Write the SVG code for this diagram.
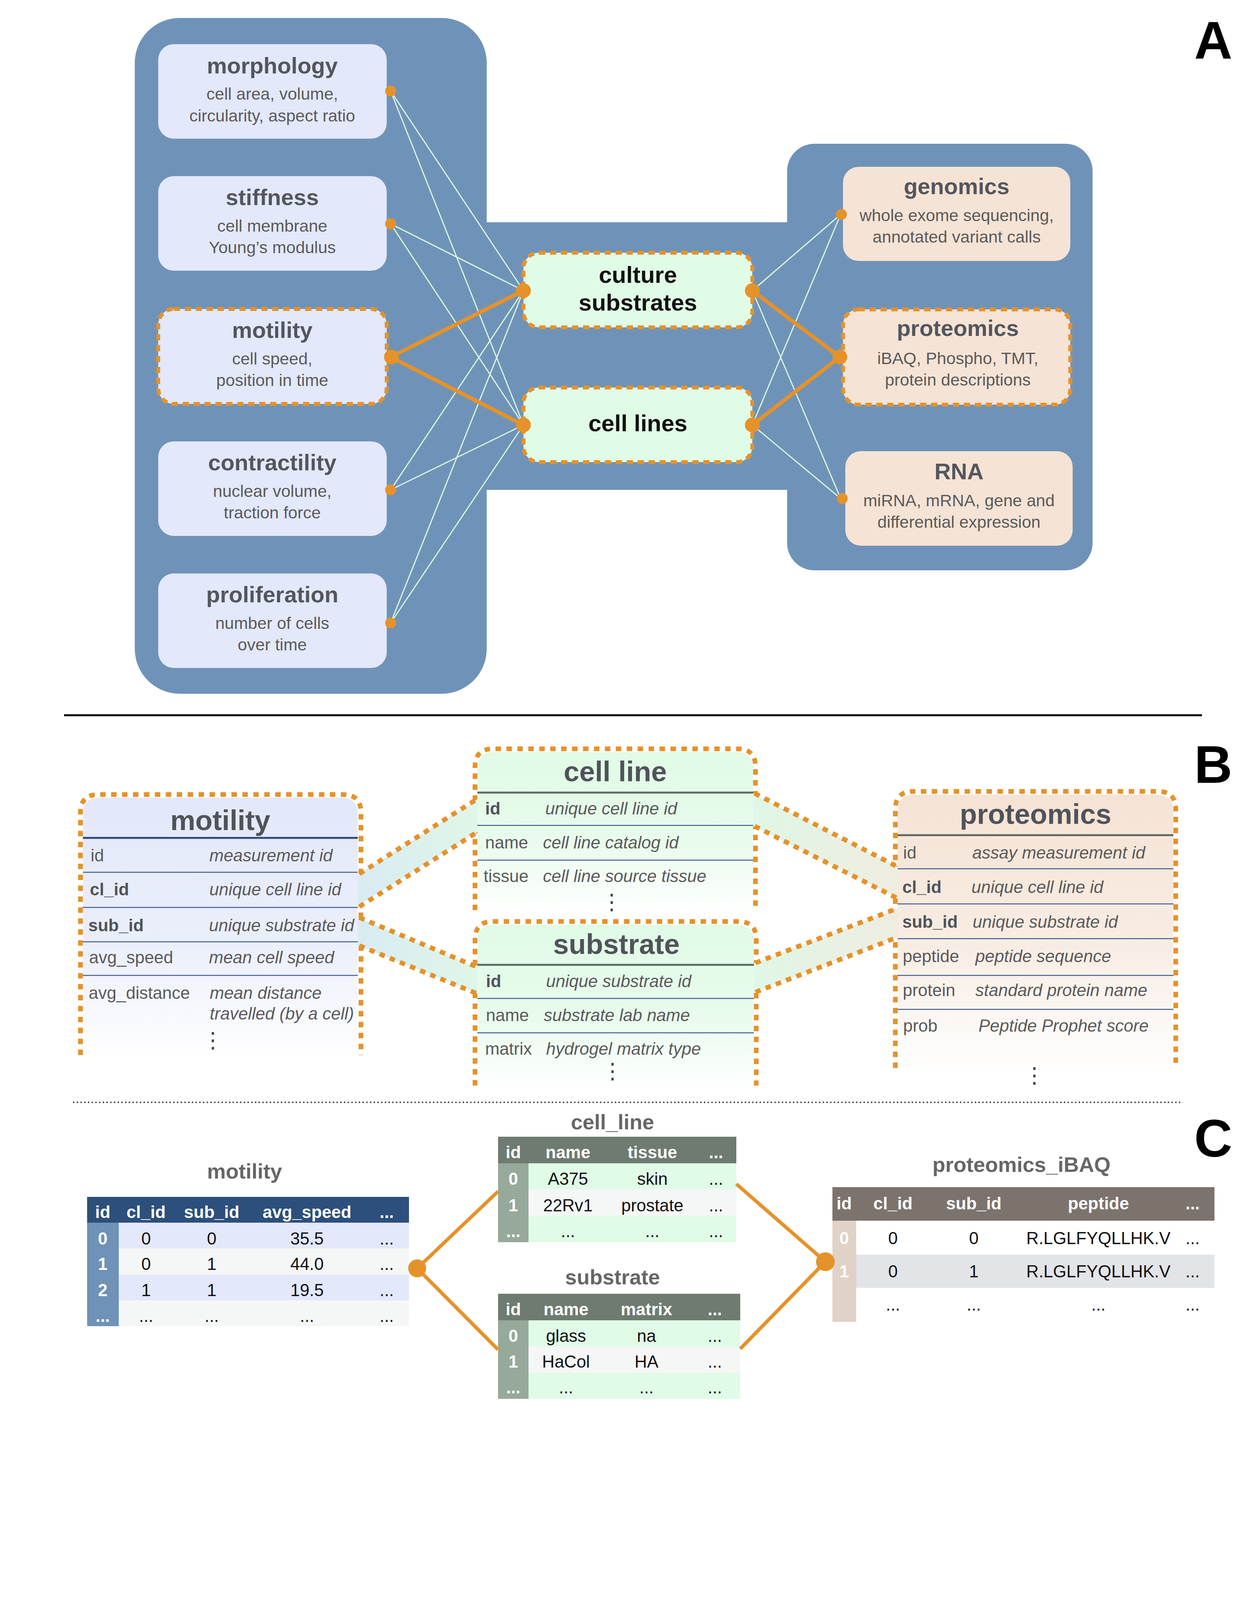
<svg xmlns="http://www.w3.org/2000/svg" width="3200" height="4266" viewBox="0 0 3200 4266">
<defs>
<style>
text{font-family:'Liberation Sans',Arial,Helvetica,sans-serif}
.ttl{font-size:58px;font-weight:bold;fill:#53565D;text-anchor:middle}
.sub{font-size:43px;fill:#5A5A5A;text-anchor:middle}
.mid{font-size:60px;font-weight:bold;fill:#111;text-anchor:middle}
.lbl{font-size:135px;font-weight:bold;fill:#000;text-anchor:middle}
.thin{stroke:#DCF6E0;stroke-width:3;fill:none}
.thick{stroke:#E5922A;stroke-width:10;fill:none}
.dot{fill:#E5922A}
.dash{fill:none;stroke:#E5922A;stroke-width:10;stroke-dasharray:16 12}
.bdr{fill:none;stroke:#E5922A;stroke-width:12;stroke-dasharray:14 14}
.btt{font-size:72px;font-weight:bold;fill:#505359;text-anchor:middle}
.fld{font-size:44px;fill:#5A5A5A}
.fldb{font-size:44px;fill:#505359;font-weight:bold}
.dsc{font-size:44px;fill:#5A5A5A;font-style:italic}
.vd{font-family:'DejaVu Sans',sans-serif;font-size:56px;fill:#444;text-anchor:middle}
.hl{stroke-width:5}
.rl{stroke:#3D5E8E;stroke-width:2.5}
.ctt{font-size:54px;font-weight:bold;fill:#666;text-anchor:middle}
.th{font-size:44px;font-weight:bold;fill:#fff;text-anchor:middle}
.td{font-size:44px;fill:#111;text-anchor:middle}
.cl{stroke:#E5922A;stroke-width:9;fill:none}
</style>
<linearGradient id="gBlue" x1="0" y1="0" x2="0" y2="1"><stop offset="0" stop-color="#E3E8FA"/><stop offset="0.55" stop-color="#EBEFFB"/><stop offset="1" stop-color="#FFFFFF"/></linearGradient>
<linearGradient id="gGreen" x1="0" y1="0" x2="0" y2="1"><stop offset="0" stop-color="#E0FBE6"/><stop offset="0.55" stop-color="#E8FBEC"/><stop offset="1" stop-color="#FFFFFF"/></linearGradient>
<linearGradient id="gPeach" x1="0" y1="0" x2="0" y2="1"><stop offset="0" stop-color="#F5E3D5"/><stop offset="0.55" stop-color="#F8EDE4"/><stop offset="1" stop-color="#FFFFFF"/></linearGradient>
<linearGradient id="gBandL" x1="0" y1="0" x2="1" y2="0"><stop offset="0" stop-color="#D9EBF3"/><stop offset="1" stop-color="#DFF6E7"/></linearGradient>
<linearGradient id="gBandR" x1="0" y1="0" x2="1" y2="0"><stop offset="0" stop-color="#DFF7E6"/><stop offset="1" stop-color="#EFEDE0"/></linearGradient>
</defs>
<rect width="3200" height="4266" fill="#fff"/>

<!-- Panel A backgrounds -->
<g id="panelA-bg" fill="#6F93B8">
<rect x="345" y="46" width="901" height="1730" rx="115"/>
<rect x="1200" y="569" width="870" height="685"/>
<rect x="2015" y="368" width="782" height="1092" rx="70"/>
</g>

<g id="morphology">
<rect x="405" y="113" width="585" height="242" rx="40" fill="#E3E8FA"/>
<text class="ttl" x="697" y="188">morphology</text>
<text class="sub" x="697" y="255">cell area, volume,</text>
<text class="sub" x="697" y="311">circularity, aspect ratio</text>
</g>
<g id="stiffness">
<rect x="405" y="451" width="585" height="242" rx="40" fill="#E3E8FA"/>
<text class="ttl" x="697" y="525">stiffness</text>
<text class="sub" x="697" y="593">cell membrane</text>
<text class="sub" x="697" y="648">Young’s modulus</text>
</g>
<g id="motility">
<rect x="405" y="791" width="585" height="243" rx="40" fill="#E3E8FA" class="dash"/>
<rect x="405" y="791" width="585" height="243" rx="40" fill="#E3E8FA"/>
<rect x="405" y="791" width="585" height="243" rx="40" class="dash"/>
<text class="ttl" x="697" y="865">motility</text>
<text class="sub" x="697" y="933">cell speed,</text>
<text class="sub" x="697" y="988">position in time</text>
</g>
<g id="contractility">
<rect x="405" y="1130" width="585" height="242" rx="40" fill="#E3E8FA"/>
<text class="ttl" x="697" y="1204">contractility</text>
<text class="sub" x="697" y="1272">nuclear volume,</text>
<text class="sub" x="697" y="1327">traction force</text>
</g>
<g id="proliferation">
<rect x="405" y="1468" width="585" height="242" rx="40" fill="#E3E8FA"/>
<text class="ttl" x="697" y="1542">proliferation</text>
<text class="sub" x="697" y="1610">number of cells</text>
<text class="sub" x="697" y="1665">over time</text>
</g>
<g id="culture-substrates">
<rect x="1340" y="647" width="586" height="191" rx="40" fill="#E0FBE6"/>
<rect x="1340" y="647" width="586" height="191" rx="40" class="dash"/>
<text class="mid" x="1633" y="724">culture</text>
<text class="mid" x="1633" y="795">substrates</text>
</g>
<g id="cell-lines">
<rect x="1340" y="992" width="586" height="191" rx="40" fill="#E0FBE6"/>
<rect x="1340" y="992" width="586" height="191" rx="40" class="dash"/>
<text class="mid" x="1633" y="1104">cell lines</text>
</g>
<g id="genomics">
<rect x="2158" y="427" width="582" height="241" rx="40" fill="#F5E3D5"/>
<text class="ttl" x="2449" y="497">genomics</text>
<text class="sub" x="2449" y="566">whole exome sequencing,</text>
<text class="sub" x="2449" y="621">annotated variant calls</text>
</g>
<g id="proteomics">
<rect x="2158" y="792" width="582" height="244" rx="40" fill="#F5E3D5"/>
<rect x="2158" y="792" width="582" height="244" rx="40" class="dash"/>
<text class="ttl" x="2452" y="860">proteomics</text>
<text class="sub" x="2452" y="932">iBAQ, Phospho, TMT,</text>
<text class="sub" x="2452" y="987">protein descriptions</text>
</g>
<g id="rna">
<rect x="2164" y="1155" width="582" height="242" rx="40" fill="#F5E3D5"/>
<text class="ttl" x="2455" y="1227">RNA</text>
<text class="sub" x="2455" y="1296">miRNA, mRNA, gene and</text>
<text class="sub" x="2455" y="1351">differential expression</text>
</g>

<g id="connectors-A">
<line class="thin" x1="1000" y1="233" x2="1340" y2="744"/>
<line class="thin" x1="1000" y1="233" x2="1340" y2="1088"/>
<line class="thin" x1="1000" y1="573" x2="1340" y2="744"/>
<line class="thin" x1="1000" y1="573" x2="1340" y2="1088"/>
<line class="thin" x1="1000" y1="1254" x2="1340" y2="744"/>
<line class="thin" x1="1000" y1="1254" x2="1340" y2="1088"/>
<line class="thin" x1="1000" y1="1595" x2="1340" y2="744"/>
<line class="thin" x1="1000" y1="1595" x2="1340" y2="1088"/>
<line class="thick" x1="1000" y1="914" x2="1340" y2="744"/>
<line class="thick" x1="1000" y1="914" x2="1340" y2="1088"/>
<line class="thin" x1="1926" y1="744" x2="2152" y2="549"/>
<line class="thin" x1="1926" y1="744" x2="2152" y2="1276"/>
<line class="thin" x1="1926" y1="1088" x2="2152" y2="549"/>
<line class="thin" x1="1926" y1="1088" x2="2152" y2="1276"/>
<line class="thick" x1="1926" y1="744" x2="2150" y2="914"/>
<line class="thick" x1="1926" y1="1088" x2="2150" y2="914"/>
<circle class="dot" cx="1000" cy="233" r="14"/>
<circle class="dot" cx="1000" cy="573" r="14"/>
<circle class="dot" cx="1002" cy="914" r="19"/>
<circle class="dot" cx="1000" cy="1254" r="14"/>
<circle class="dot" cx="1000" cy="1595" r="14"/>
<circle class="dot" cx="1340" cy="744" r="19"/>
<circle class="dot" cx="1340" cy="1088" r="19"/>
<circle class="dot" cx="1926" cy="744" r="19"/>
<circle class="dot" cx="1926" cy="1088" r="19"/>
<circle class="dot" cx="2154" cy="549" r="14"/>
<circle class="dot" cx="2150" cy="914" r="19"/>
<circle class="dot" cx="2156" cy="1276" r="14"/>
</g>

<text class="lbl" x="3106" y="150">A</text>
<line x1="164" y1="1831" x2="3077" y2="1831" stroke="#000" stroke-width="5"/>
<text class="lbl" x="3106" y="2004">B</text>
<line x1="187" y1="2822" x2="3028" y2="2822" stroke="#333" stroke-width="3.5" stroke-dasharray="3.5 6"/>
<text class="lbl" x="3106" y="2961">C</text>

<!-- Panel B -->
<g id="b-motility">
<path class="bdr" d="M206,2701 V2080 Q206,2034 252,2034 H878 Q924,2034 924,2080 V2701"/>
<path d="M212,2712 V2086 Q212,2042 256,2042 H872 Q916,2042 916,2086 V2712 Z" fill="url(#gBlue)"/>
<text class="btt" x="564" y="2125">motility</text>
<line x1="212" y1="2145" x2="916" y2="2145" stroke="#2E4A75" class="hl"/>
<line class="rl" x1="212" y1="2233" x2="916" y2="2233"/>
<line class="rl" x1="212" y1="2323" x2="916" y2="2323"/>
<line class="rl" x1="212" y1="2411" x2="916" y2="2411"/>
<line class="rl" x1="212" y1="2497" x2="916" y2="2497"/>
<text class="fld" x="232" y="2205">id</text><text class="dsc" x="536" y="2205">measurement id</text>
<text class="fldb" x="230" y="2292">cl_id</text><text class="dsc" x="536" y="2292">unique cell line id</text>
<text class="fldb" x="226" y="2384">sub_id</text><text class="dsc" x="535" y="2384">unique substrate id</text>
<text class="fld" x="228" y="2466">avg_speed</text><text class="dsc" x="535" y="2466">mean cell speed</text>
<text class="fld" x="227" y="2557">avg_distance</text><text class="dsc" x="537" y="2557">mean distance</text>
<text class="dsc" x="537" y="2610">travelled (by a cell)</text>
<text class="vd" x="545" y="2682">⋮</text>
</g>
<g id="b-cell-line">
<path class="bdr" d="M1216,2330 V1963 Q1216,1917 1262,1917 H1888 Q1934,1917 1934,1963 V2330"/>
<path d="M1222,2336 V1969 Q1222,1925 1266,1925 H1884 Q1928,1925 1928,1969 V2336 Z" fill="url(#gGreen)"/>
<text class="btt" x="1575" y="2000">cell line</text>
<line x1="1222" y1="2029" x2="1928" y2="2029" stroke="#5E6B62" class="hl"/>
<line class="rl" x1="1222" y1="2113" x2="1928" y2="2113"/>
<line class="rl" x1="1222" y1="2202" x2="1928" y2="2202"/>
<text class="fldb" x="1242" y="2085">id</text><text class="dsc" x="1396" y="2085">unique cell line id</text>
<text class="fld" x="1242" y="2172">name</text><text class="dsc" x="1390" y="2172">cell line catalog id</text>
<text class="fld" x="1238" y="2258">tissue</text><text class="dsc" x="1390" y="2258">cell line source tissue</text>
<text class="vd" x="1566" y="2328">⋮</text>
</g>
<g id="b-substrate">
<path class="bdr" d="M1216,2779 V2405 Q1216,2359 1262,2359 H1890 Q1936,2359 1936,2405 V2779"/>
<path d="M1222,2785 V2411 Q1222,2367 1266,2367 H1886 Q1930,2367 1930,2411 V2785 Z" fill="url(#gGreen)"/>
<text class="btt" x="1578" y="2442">substrate</text>
<line x1="1222" y1="2470" x2="1930" y2="2470" stroke="#5E6B62" class="hl"/>
<line class="rl" x1="1222" y1="2556" x2="1930" y2="2556"/>
<line class="rl" x1="1222" y1="2644" x2="1930" y2="2644"/>
<text class="fldb" x="1244" y="2527">id</text><text class="dsc" x="1398" y="2527">unique substrate id</text>
<text class="fld" x="1244" y="2614">name</text><text class="dsc" x="1392" y="2614">substrate lab name</text>
<text class="fld" x="1242" y="2700">matrix</text><text class="dsc" x="1398" y="2700">hydrogel matrix type</text>
<text class="vd" x="1568" y="2761">⋮</text>
</g>
<g id="b-proteomics">
<path class="bdr" d="M2292,2734 V2072 Q2292,2026 2338,2026 H2964 Q3010,2026 3010,2072 V2734"/>
<path d="M2298,2745 V2078 Q2298,2034 2342,2034 H2960 Q3004,2034 3004,2078 V2745 Z" fill="url(#gPeach)"/>
<text class="btt" x="2651" y="2109">proteomics</text>
<line x1="2298" y1="2138" x2="3004" y2="2138" stroke="#5E6B62" class="hl"/>
<line class="rl" x1="2298" y1="2224" x2="3004" y2="2224"/>
<line class="rl" x1="2298" y1="2314" x2="3004" y2="2314"/>
<line class="rl" x1="2298" y1="2403" x2="3004" y2="2403"/>
<line class="rl" x1="2298" y1="2497" x2="3004" y2="2497"/>
<line class="rl" x1="2298" y1="2584" x2="3004" y2="2584"/>
<text class="fld" x="2312" y="2198">id</text><text class="dsc" x="2489" y="2198">assay measurement id</text>
<text class="fldb" x="2310" y="2286">cl_id</text><text class="dsc" x="2487" y="2286">unique cell line id</text>
<text class="fldb" x="2310" y="2375">sub_id</text><text class="dsc" x="2490" y="2375">unique substrate id</text>
<text class="fld" x="2311" y="2463">peptide</text><text class="dsc" x="2497" y="2463">peptide sequence</text>
<text class="fld" x="2311" y="2550">protein</text><text class="dsc" x="2497" y="2550">standard protein name</text>
<text class="fld" x="2312" y="2641">prob</text><text class="dsc" x="2505" y="2641">Peptide Prophet score</text>
<text class="vd" x="2648" y="2772">⋮</text>
</g>

<g id="connectors-B">
<polygon points="916,2239 1222,2046 1222,2130 916,2319" fill="url(#gBandL)"/>
<line class="bdr" x1="920" y1="2237" x2="1222" y2="2045"/>
<line class="bdr" x1="920" y1="2321" x2="1222" y2="2130"/>
<polygon points="916,2349 1222,2476 1222,2543 916,2420" fill="url(#gBandL)"/>
<line class="bdr" x1="920" y1="2349" x2="1222" y2="2476"/>
<line class="bdr" x1="920" y1="2421" x2="1222" y2="2544"/>
<polygon points="1928,2031 2298,2219 2298,2299 1928,2115" fill="url(#gBandR)"/>
<line class="bdr" x1="1932" y1="2031" x2="2296" y2="2218"/>
<line class="bdr" x1="1932" y1="2115" x2="2296" y2="2299"/>
<polygon points="1930,2466 2298,2326 2298,2399 1930,2540" fill="url(#gBandR)"/>
<line class="bdr" x1="1934" y1="2465" x2="2296" y2="2326"/>
<line class="bdr" x1="1934" y1="2540" x2="2296" y2="2400"/>
</g>

<!-- Panel C -->
<g id="c-motility">
<text class="ctt" x="626" y="3017">motility</text>
<rect x="223" y="3064" width="824" height="66" fill="#2D4F7C"/>
<rect x="223" y="3130" width="81" height="265" fill="#6E92B8"/>
<rect x="304" y="3130" width="743" height="66" fill="#E3E8FA"/>
<rect x="304" y="3196" width="743" height="67" fill="#F5F7F6"/>
<rect x="304" y="3263" width="743" height="66" fill="#E3E8FA"/>
<rect x="304" y="3329" width="743" height="66" fill="#F5F7F6"/>
<text class="th" x="263" y="3118">id</text><text class="th" x="374" y="3118">cl_id</text><text class="th" x="542" y="3118">sub_id</text><text class="th" x="786" y="3118">avg_speed</text><text class="th" x="990" y="3118">...</text>
<text class="th" x="263" y="3186">0</text><text class="td" x="374" y="3186">0</text><text class="td" x="542" y="3186">0</text><text class="td" x="786" y="3186">35.5</text><text class="td" x="990" y="3186">...</text>
<text class="th" x="263" y="3251">1</text><text class="td" x="374" y="3251">0</text><text class="td" x="542" y="3251">1</text><text class="td" x="786" y="3251">44.0</text><text class="td" x="990" y="3251">...</text>
<text class="th" x="263" y="3318">2</text><text class="td" x="374" y="3318">1</text><text class="td" x="542" y="3318">1</text><text class="td" x="786" y="3318">19.5</text><text class="td" x="990" y="3318">...</text>
<text class="th" x="263" y="3384">...</text><text class="td" x="374" y="3384">...</text><text class="td" x="542" y="3384">...</text><text class="td" x="786" y="3384">...</text><text class="td" x="990" y="3384">...</text>
</g>
<g id="c-cell-line">
<text class="ctt" x="1568" y="2891">cell_line</text>
<rect x="1275" y="2910" width="610" height="68" fill="#6E7B70"/>
<rect x="1275" y="2978" width="78" height="202" fill="#97A99A"/>
<rect x="1353" y="2978" width="532" height="67" fill="#E0FBE6"/>
<rect x="1353" y="3045" width="532" height="67" fill="#F5F7F6"/>
<rect x="1353" y="3112" width="532" height="68" fill="#E0FBE6"/>
<text class="th" x="1314" y="2965">id</text><text class="th" x="1454" y="2965">name</text><text class="th" x="1670" y="2965">tissue</text><text class="th" x="1833" y="2965">...</text>
<text class="th" x="1314" y="3033">0</text><text class="td" x="1454" y="3033">A375</text><text class="td" x="1670" y="3033">skin</text><text class="td" x="1833" y="3033">...</text>
<text class="th" x="1314" y="3101">1</text><text class="td" x="1454" y="3101">22Rv1</text><text class="td" x="1670" y="3101">prostate</text><text class="td" x="1833" y="3101">...</text>
<text class="th" x="1314" y="3167">...</text><text class="td" x="1454" y="3167">...</text><text class="td" x="1670" y="3167">...</text><text class="td" x="1833" y="3167">...</text>
</g>
<g id="c-substrate">
<text class="ctt" x="1568" y="3288">substrate</text>
<rect x="1275" y="3312" width="620" height="68" fill="#6E7B70"/>
<rect x="1275" y="3380" width="78" height="201" fill="#97A99A"/>
<rect x="1353" y="3380" width="542" height="67" fill="#E0FBE6"/>
<rect x="1353" y="3447" width="542" height="67" fill="#F5F7F6"/>
<rect x="1353" y="3514" width="542" height="67" fill="#E0FBE6"/>
<text class="th" x="1314" y="3367">id</text><text class="th" x="1449" y="3367">name</text><text class="th" x="1655" y="3367">matrix</text><text class="th" x="1830" y="3367">...</text>
<text class="th" x="1314" y="3435">0</text><text class="td" x="1449" y="3435">glass</text><text class="td" x="1655" y="3435">na</text><text class="td" x="1830" y="3435">...</text>
<text class="th" x="1314" y="3501">1</text><text class="td" x="1449" y="3501">HaCol</text><text class="td" x="1655" y="3501">HA</text><text class="td" x="1830" y="3501">...</text>
<text class="th" x="1314" y="3567">...</text><text class="td" x="1449" y="3567">...</text><text class="td" x="1655" y="3567">...</text><text class="td" x="1830" y="3567">...</text>
</g>
<g id="c-proteomics-ibaq">
<text class="ctt" x="2615" y="3000">proteomics_iBAQ</text>
<rect x="2131" y="3039" width="978" height="86" fill="#7C736D"/>
<rect x="2131" y="3125" width="61" height="259" fill="#E0D2C6"/>
<rect x="2192" y="3125" width="917" height="87" fill="#FFFFFF"/>
<rect x="2192" y="3212" width="917" height="85" fill="#E3E4E8"/>
<text class="th" x="2161" y="3096">id</text><text class="th" x="2286" y="3096">cl_id</text><text class="th" x="2493" y="3096">sub_id</text><text class="th" x="2812" y="3096">peptide</text><text class="th" x="3053" y="3096">...</text>
<text class="th" x="2161" y="3185">0</text><text class="td" x="2286" y="3185">0</text><text class="td" x="2493" y="3185">0</text><text class="td" x="2812" y="3185">R.LGLFYQLLHK.V</text><text class="td" x="3053" y="3185">...</text>
<text class="th" x="2161" y="3270">1</text><text class="td" x="2286" y="3270">0</text><text class="td" x="2493" y="3270">1</text><text class="td" x="2812" y="3270">R.LGLFYQLLHK.V</text><text class="td" x="3053" y="3270">...</text>
<text class="td" x="2286" y="3355">...</text><text class="td" x="2493" y="3355">...</text><text class="td" x="2812" y="3355">...</text><text class="td" x="3053" y="3355">...</text>
</g>
<g id="connectors-C">
<polyline class="cl" points="1275,3050 1068,3247 1275,3455"/>
<polyline class="cl" points="1885,3031 2113,3230 1895,3453"/>
<circle class="dot" cx="1068" cy="3247" r="23"/>
<circle class="dot" cx="2113" cy="3230" r="24"/>
</g>
</svg>
